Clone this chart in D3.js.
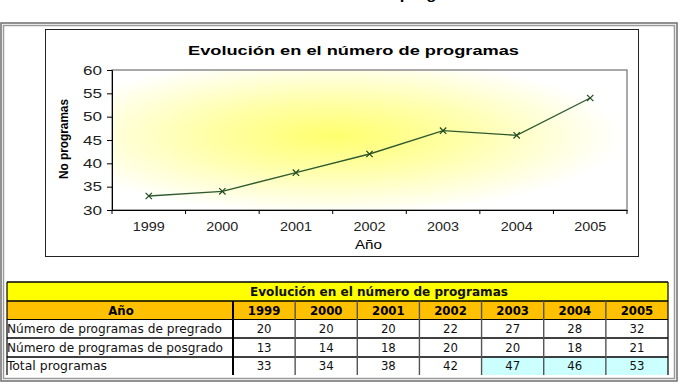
<!DOCTYPE html>
<html>
<head>
<meta charset="utf-8">
<script src="https://cdn.jsdelivr.net/npm/d3@7"></script>
<style>
  body { margin: 0; background: #fff; }
  svg { display: block; }
</style>
</head>
<body>
<script>
// data
var years = ["1999", "2000", "2001", "2002", "2003", "2004", "2005"];
var chartTotals = [33, 34, 38, 42, 47, 46, 54];
var yTicks = [30, 35, 40, 45, 50, 55, 60];
var pregrado = [20, 20, 20, 22, 27, 28, 32];
var posgrado = [13, 14, 18, 20, 20, 18, 21];
var tableTotals = [33, 34, 38, 42, 47, 46, 53];
var rowNames = ["Número de programas de pregrado", "Número de programas de posgrado", "Total programas"];
var highlightYears = ["2003", "2004", "2005"];

var W = 680, H = 384;
var arial = "Liberation Sans, Arial, sans-serif";
var svg = d3.select("body").append("svg")
    .attr("width", W)
    .attr("height", H);

var defs = svg.append("defs");
var grad = defs.append("radialGradient")
    .attr("id", "glow")
    .attr("cx", 0.43).attr("cy", 0.47)
    .attr("r", 0.56);
grad.append("stop").attr("offset", 0).attr("stop-color", "#ffff6e");
grad.append("stop").attr("offset", 0.45).attr("stop-color", "#ffffaa");
grad.append("stop").attr("offset", 1).attr("stop-color", "#ffffff");

// caption above the frame, cut off by the page top as in the scan
svg.append("text")
    .attr("x", 185)
    .attr("y", -1)
    .attr("textLength", 300)
    .attr("lengthAdjust", "spacingAndGlyphs")
    .style("font-family", arial)
    .style("font-weight", "bold")
    .style("font-size", "13px")
    .text("Evolución en el número de programas");

// outer frame (double border)
svg.append("rect")
    .attr("x", 1).attr("y", 23).attr("width", 676).attr("height", 358)
    .attr("fill", "none").attr("stroke", "#6e6e6e").attr("stroke-width", 1.5);
svg.append("rect")
    .attr("x", 3.5).attr("y", 25.5).attr("width", 671).attr("height", 353)
    .attr("fill", "none").attr("stroke", "#9a9a9a").attr("stroke-width", 1.5);

// ---------- chart ----------
svg.append("rect")
    .attr("x", 45.5).attr("y", 29.5).attr("width", 593).attr("height", 227)
    .attr("fill", "#fff").attr("stroke", "#222").attr("stroke-width", 1);

var margin = {top: 70, left: 112},
    width = 515,
    height = 140;

var g = svg.append("g")
    .attr("transform", "translate(" + margin.left + "," + margin.top + ")");

var x = d3.scaleBand()
    .domain(years)
    .range([0, width]);

var y = d3.scaleLinear()
    .domain([30, 60])
    .range([height, 0]);

g.append("rect")
    .attr("width", width)
    .attr("height", height)
    .attr("fill", "url(#glow)")
    .attr("stroke", "#8c8c8c")
    .attr("stroke-width", 1.5);

svg.append("text")
    .attr("x", 188)
    .attr("y", 55)
    .attr("textLength", 331)
    .attr("lengthAdjust", "spacingAndGlyphs")
    .style("font-family", arial)
    .style("font-weight", "bold")
    .style("font-size", "13.5px")
    .text("Evolución en el número de programas");

// y axis
var yAxis = g.append("g")
    .call(d3.axisLeft(y).tickValues(yTicks).tickSize(5).tickPadding(5));
yAxis.select(".domain").attr("stroke", "#000");
yAxis.selectAll("text")
    .attr("textLength", 19)
    .attr("lengthAdjust", "spacingAndGlyphs")
    .style("font-family", arial)
    .style("font-size", "13px")
    .attr("fill", "#222");

// x axis, ticks between categories
var xAxis = g.append("g")
    .attr("transform", "translate(0," + height + ")")
    .call(d3.axisBottom(x).tickSize(0).tickPadding(12));
xAxis.select(".domain").attr("stroke", "#000").attr("stroke-width", 1.2);
xAxis.selectAll("text")
    .attr("textLength", 32)
    .attr("lengthAdjust", "spacingAndGlyphs")
    .style("font-family", arial)
    .style("font-size", "12.5px")
    .attr("fill", "#222");
xAxis.selectAll(".sep")
    .data(years.concat(["end"]))
    .enter().append("line")
    .attr("class", "sep")
    .attr("x1", function(d, i){ return i * x.step(); })
    .attr("x2", function(d, i){ return i * x.step(); })
    .attr("y1", 0)
    .attr("y2", 4)
    .attr("stroke", "#000");

svg.append("text")
    .attr("x", 355)
    .attr("y", 249)
    .attr("textLength", 27)
    .attr("lengthAdjust", "spacingAndGlyphs")
    .style("font-family", arial)
    .style("font-size", "12.5px")
    .text("Año");

svg.append("text")
    .attr("transform", "translate(68,179) rotate(-90)")
    .attr("textLength", 80)
    .attr("lengthAdjust", "spacingAndGlyphs")
    .style("font-family", arial)
    .style("font-weight", "bold")
    .style("font-size", "12px")
    .text("No programas");

// line + x markers
var pts = years.map(function(d, i){ return [d, chartTotals[i]]; });
var line = d3.line()
    .x(function(d){ return x(d[0]) + x.bandwidth() / 2; })
    .y(function(d){ return y(d[1]); });

g.append("path")
    .datum(pts)
    .attr("d", line)
    .attr("fill", "none")
    .attr("stroke", "#2f5a2f")
    .attr("stroke-width", 1.4);

var cross = d3.symbol().type(d3.symbolX).size(28);
g.selectAll(".mark")
    .data(pts)
    .enter().append("path")
    .attr("class", "mark")
    .attr("d", cross)
    .attr("transform", function(d){
        return "translate(" + (x(d[0]) + x.bandwidth() / 2) + "," + y(d[1]) + ")";
    })
    .attr("fill", "none")
    .attr("stroke", "#1f4a1f")
    .attr("stroke-width", 1.2);

// ---------- table ----------
var tLeft = 7, tRight = 668, firstCol = 233;
var rowY = [282, 301, 319.5, 338, 357, 375];
var cx = d3.scaleBand()
    .domain(years)
    .range([firstCol, tRight]);

var tbl = svg.append("g");
var tFont = "Tahoma, 'DejaVu Sans Condensed', 'DejaVu Sans', sans-serif";

// title row
tbl.append("rect")
    .attr("x", tLeft).attr("y", rowY[0])
    .attr("width", tRight - tLeft).attr("height", rowY[1] - rowY[0])
    .attr("fill", "#ffff00");
tbl.append("text")
    .attr("x", 250).attr("y", rowY[1] - 5)
    .attr("textLength", 258)
    .attr("lengthAdjust", "spacingAndGlyphs")
    .style("font-family", tFont)
    .style("font-weight", "bold")
    .style("font-size", "13px")
    .attr("fill", "#111")
    .text("Evolución en el número de programas");

// header row
tbl.append("rect")
    .attr("x", tLeft).attr("y", rowY[1])
    .attr("width", tRight - tLeft).attr("height", rowY[2] - rowY[1])
    .attr("fill", "#ffc000");
tbl.append("text")
    .attr("x", (tLeft + firstCol) / 2 + 1).attr("y", rowY[2] - 5)
    .attr("text-anchor", "middle")
    .style("font-family", tFont)
    .style("font-weight", "bold")
    .style("font-size", "13px")
    .text("Año");
tbl.selectAll(".yr")
    .data(years)
    .enter().append("text")
    .attr("class", "yr")
    .attr("x", function(d){ return cx(d) + cx.bandwidth() / 2; })
    .attr("y", rowY[2] - 5)
    .attr("text-anchor", "middle")
    .style("font-family", tFont)
    .style("font-weight", "bold")
    .style("font-size", "13px")
    .text(function(d){ return d; });

// highlighted cells
tbl.selectAll(".hl")
    .data(highlightYears)
    .enter().append("rect")
    .attr("x", function(d){ return cx(d); })
    .attr("y", rowY[4])
    .attr("width", cx.bandwidth())
    .attr("height", rowY[5] - rowY[4])
    .attr("fill", "#ccffff");

// body rows
var nameLen = [215, 216, 100];
var rows = [pregrado, posgrado, tableTotals];
rows.forEach(function(vals, r){
    var base = rowY[r + 3] - 5;
    tbl.append("text")
        .attr("x", tLeft).attr("y", base)
        .attr("textLength", nameLen[r])
        .attr("lengthAdjust", "spacingAndGlyphs")
        .style("font-family", tFont)
        .style("font-size", "13px")
        .attr("fill", "#111")
        .text(rowNames[r]);
    tbl.selectAll(".v" + r)
        .data(vals)
        .enter().append("text")
        .attr("x", function(d, i){ return cx(years[i]) + cx.bandwidth() / 2; })
        .attr("y", base)
        .attr("text-anchor", "middle")
        .style("font-family", tFont)
        .style("font-size", "13px")
        .attr("fill", "#111")
        .text(function(d){ return d; });
});

// grid lines
[0, 1, 3, 4].forEach(function(i){
    tbl.append("line")
        .attr("x1", tLeft).attr("x2", tRight)
        .attr("y1", rowY[i]).attr("y2", rowY[i])
        .attr("stroke", "#000").attr("stroke-width", 1.6);
});
tbl.append("line")
    .attr("x1", tLeft).attr("x2", tRight)
    .attr("y1", rowY[2]).attr("y2", rowY[2])
    .attr("stroke", "#000").attr("stroke-width", 1.2);
tbl.append("line")
    .attr("x1", tLeft).attr("x2", tLeft)
    .attr("y1", rowY[0]).attr("y2", rowY[5])
    .attr("stroke", "#000").attr("stroke-width", 1.2);
tbl.append("line")
    .attr("x1", tRight).attr("x2", tRight)
    .attr("y1", rowY[0]).attr("y2", rowY[5])
    .attr("stroke", "#000").attr("stroke-width", 1.2);
tbl.selectAll(".vsep")
    .data(years)
    .enter().append("line")
    .attr("class", "vsep")
    .attr("x1", function(d){ return cx(d); })
    .attr("x2", function(d){ return cx(d); })
    .attr("y1", rowY[1])
    .attr("y2", rowY[5])
    .attr("stroke", function(d){ return d === "1999" ? "#000" : "#555"; })
    .attr("stroke-width", function(d){ return d === "1999" ? 2 : 1.4; });
</script>
</body>
</html>
